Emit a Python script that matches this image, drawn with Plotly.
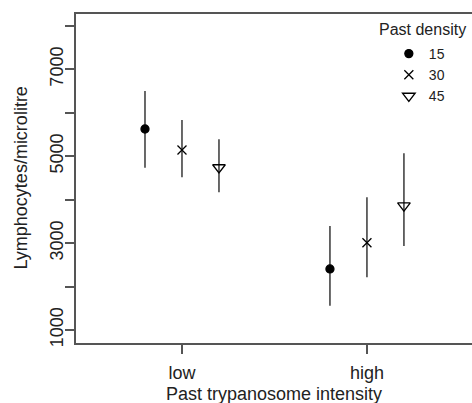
import plotly.graph_objects as go

# past trypanosome intensity groups
categories = ["low", "high"]
# past density levels
densities = ["15", "30", "45"]

# lymphocytes/microlitre: means and interval limits, per density, per category
means = {
    "15": [5626, 2404],
    "30": [5143, 3009],
    "45": [4740, 3861],
}
upper = {
    "15": [6500, 3394],
    "30": [5833, 4054],
    "45": [5389, 5067],
}
lower = {
    "15": [4735, 1559],
    "30": [4514, 2213],
    "45": [4169, 2933],
}

symbols = {"15": "circle", "30": "x-thin-open", "45": "triangle-down-open"}
sizes = {"15": 8, "30": 9, "45": 11}

fig = go.Figure()
for j, d in enumerate(densities):
    xs = [i + 1 + (j - 1) * 0.2 for i in range(len(categories))]
    ys = means[d]
    fig.add_trace(
        go.Scatter(
            x=xs,
            y=ys,
            mode="markers",
            name=d,
            marker=dict(
                symbol=symbols[d],
                size=sizes[d],
                color="black",
                line=dict(color="black", width=1.3),
            ),
            error_y=dict(
                type="data",
                symmetric=False,
                array=[u - m for u, m in zip(upper[d], ys)],
                arrayminus=[m - l for m, l in zip(ys, lower[d])],
                width=0,
                thickness=1.6,
                color="#444",
            ),
        )
    )

font = "Liberation Sans, Arial, Helvetica, sans-serif"
fig.update_layout(
    width=472,
    height=403,
    margin=dict(l=76, r=0, t=14, b=60, autoexpand=False),
    paper_bgcolor="white",
    plot_bgcolor="white",
    font=dict(family=font, size=18, color="#222"),
    showlegend=True,
    legend=dict(
        font=dict(size=14),
        x=0.79,
        xanchor="left",
        y=0.927,
        yanchor="top",
        bgcolor="rgba(0,0,0,0)",
        tracegroupgap=0,
    ),
    xaxis=dict(
        range=[0.427, 2.568],
        tickvals=[1, 2],
        ticktext=categories,
        ticks="outside",
        ticklen=9,
        tickwidth=1.5,
        tickcolor="#555",
        showline=True,
        linecolor="#555",
        linewidth=1.5,
        mirror=True,
        showgrid=False,
        zeroline=False,
        automargin=False,
        ticklabelstandoff=4,
    ),
    yaxis=dict(
        range=[700, 8273],
        tickvals=[1000, 2000, 3000, 4000, 5000, 6000, 7000, 8000],
        ticktext=["1000", "", "3000", "", "5000", "", "7000", ""],
        tickangle=-90,
        ticks="outside",
        ticklen=9,
        tickwidth=1.5,
        tickcolor="#555",
        showline=True,
        linecolor="#555",
        linewidth=1.5,
        showgrid=False,
        zeroline=False,
        automargin=False,
        ticklabelstandoff=-5,
    ),
    annotations=[
        dict(
            text="Past trypanosome intensity",
            xref="paper", yref="paper", x=0.5, y=0,
            xanchor="center", yanchor="middle", yshift=-51,
            showarrow=False, font=dict(size=18),
        ),
        dict(
            text="Lymphocytes/microlitre",
            xref="paper", yref="paper", x=0, y=0.5,
            xanchor="center", yanchor="middle", xshift=-56,
            textangle=-90, showarrow=False, font=dict(size=18),
        ),
        dict(
            text="Past density",
            xref="paper", yref="paper", x=1, y=1,
            xanchor="right", yanchor="middle", xshift=-4, yshift=-15,
            showarrow=False, font=dict(size=16),
        ),
    ],
)

fig.write_html(
    "out.html",
    config={"displayModeBar": False},
    post_script="document.body.style.margin='0';document.body.style.overflow='hidden';",
)
